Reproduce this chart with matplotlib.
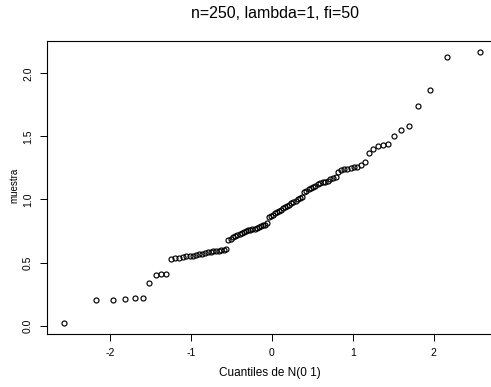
import numpy as np
import matplotlib
matplotlib.use("Agg")
import matplotlib.pyplot as plt
from statistics import NormalDist

plt.rcParams['font.family'] = ['Liberation Sans', 'DejaVu Sans']

title = "n=250, lambda=1, fi=50"
xlabel = "Cuantiles de N(0 1)"
ylabel = "muestra"

# sorted sample (100 observations)
muestra = [
    0.02, 0.20, 0.20, 0.21, 0.22, 0.22, 0.34, 0.40, 0.41, 0.41,
    0.53, 0.535, 0.54, 0.545, 0.55, 0.55, 0.555, 0.56, 0.565, 0.57,
    0.575, 0.58, 0.585, 0.59, 0.59, 0.595, 0.60, 0.60, 0.61, 0.68,
    0.69, 0.70, 0.71, 0.72, 0.73, 0.735, 0.74, 0.75, 0.755, 0.76,
    0.765, 0.77, 0.775, 0.78, 0.79, 0.795, 0.80, 0.81, 0.86, 0.87,
    0.88, 0.89, 0.90, 0.91, 0.92, 0.93, 0.94, 0.95, 0.96, 0.97,
    0.98, 0.99, 1.00, 1.01, 1.02, 1.06, 1.07, 1.08, 1.09, 1.10,
    1.11, 1.12, 1.13, 1.14, 1.14, 1.15, 1.16, 1.17, 1.18, 1.22,
    1.23, 1.24, 1.245, 1.25, 1.255, 1.26, 1.27, 1.30, 1.37, 1.40,
    1.42, 1.43, 1.44, 1.50, 1.55, 1.58, 1.74, 1.87, 2.13, 2.17,
]
xticks = [-2, -1, 0, 1, 2]
yticks = [0.0, 0.5, 1.0, 1.5, 2.0]
yticklabels = ["0.0", "0.5", "1.0", "1.5", "2.0"]

# theoretical normal quantiles at plotting positions (i - 0.5) / n
n = len(muestra)
nd = NormalDist()
teoricos = np.array([nd.inv_cdf((i - 0.5) / n) for i in range(1, n + 1)])
y = np.array(muestra)

fig = plt.figure(figsize=(4.91, 3.87), dpi=100)
ax = fig.add_axes([0.0957, 0.137, 0.916, 0.757])

ax.plot(teoricos, y, linestyle='none', marker='o', markersize=3.6,
        markerfacecolor='none', markeredgecolor='black', markeredgewidth=0.85)

def padded(lo, hi):
    r = hi - lo
    return lo - 0.04 * r, hi + 0.04 * r

ax.set_xlim(*padded(teoricos.min(), teoricos.max()))
ax.set_ylim(*padded(y.min(), y.max()))

ax.set_xticks(xticks)
ax.set_xticklabels([str(t) for t in xticks], fontsize=7.5)
ax.set_yticks(yticks)
ax.set_yticklabels(yticklabels, fontsize=7.5, rotation=90, va='center')
ax.tick_params(direction='out', length=5, width=0.7, pad=5)

for s in ax.spines.values():
    s.set_linewidth(0.8)
    s.set_color('black')

fig.text(0.56, 0.965, title, ha='center', va='center', fontsize=11.5)
fig.text(0.55, 0.037, xlabel, ha='center', va='center', fontsize=8.5)
fig.text(0.029, 0.52, ylabel, ha='center', va='center', fontsize=7, rotation=90)

fig.savefig("out.png", dpi=100, facecolor='white')
